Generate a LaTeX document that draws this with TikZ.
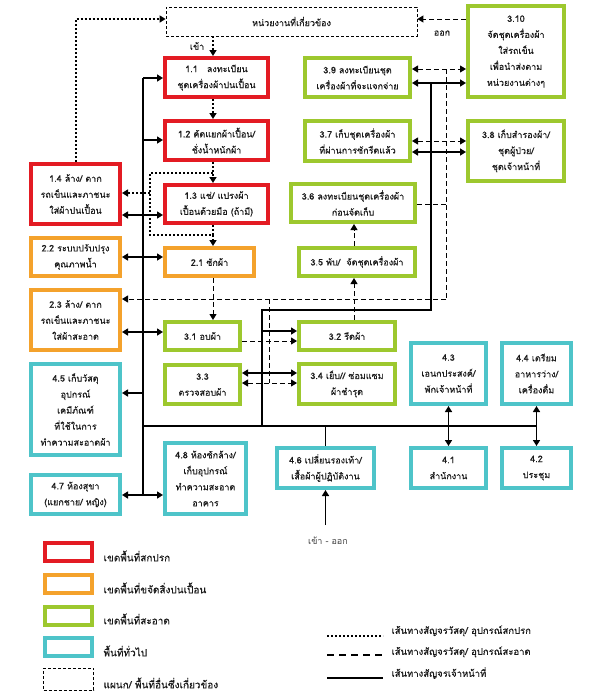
\documentclass[tikz,border=0pt]{standalone}
\usepackage{fontspec}
\newfontfamily\thaifont[Script=Thai,FakeBold=0.35]{Loma}
\newfontfamily\thailight[Script=Thai]{Loma}
\usetikzlibrary{arrows.meta}
\definecolor{cred}{HTML}{E31B23}
\definecolor{corange}{HTML}{F4A22C}
\definecolor{cgreen}{HTML}{9DC82E}
\definecolor{ccyan}{HTML}{4EC4C9}
\definecolor{ctext}{HTML}{1A1A1A}
\newcommand\mybox[7]{%
 \pgfmathsetmacro\bcx{(#3+#5)/2}\pgfmathsetmacro\bcy{(#4+#6)/2}%
 \pgfmathsetmacro\bww{#5-#3-4}\pgfmathsetmacro\bhh{#6-#4-4}%
 \node[#2, minimum width=\bww pt, minimum height=\bhh pt] (#1) at (\bcx,\bcy) {#7};}
\tikzset{
 zone/.style={draw, line width=4pt, fill=white, align=center, inner sep=1pt,
   font=\thaifont\fontsize{9}{16}\selectfont, text=ctext},
 redz/.style={zone, draw=cred},
 orz/.style={zone, draw=corange},
 grz/.style={zone, draw=cgreen},
 cyz/.style={zone, draw=ccyan},
 deptz/.style={draw, dash pattern=on 3pt off 2pt, line width=0.8pt, align=center,
   font=\thaifont\fontsize{9}{16}\selectfont, text=ctext},
 sol/.style={line width=1.6pt},
 dsh/.style={line width=1pt, dash pattern=on 5pt off 3pt},
 dot/.style={line width=2pt, dash pattern=on 2pt off 2pt},
 lbl/.style={font=\thaifont\fontsize{9}{12}\selectfont, text=ctext},
 >={Triangle[length=6pt,width=7pt]}
}
\begin{document}
\begin{tikzpicture}[x=1pt,y=-1pt]
\useasboundingbox (0,0) rectangle (596,697);
% ---- boxes
\mybox{top}{deptz}{164}{5}{419}{38}{หน่วยงานที่เกี่ยวข้อง}
\mybox{n11}{redz}{163}{56}{270}{99}{1.1\ \ \ ลงทะเบียน\\ชุดเครื่องผ้าปนเปื้อน}
\mybox{n12}{redz}{163}{119}{270}{162}{1.2 คัดแยกผ้าเปื้อน/\\ชั่งน้ำหนักผ้า}
\mybox{n13}{redz}{163}{183}{270}{225}{1.3 แช่/ แปรงผ้า\\เปื้อนด้วยมือ (ถ้ามี)}
\mybox{n14}{redz}{29}{162}{122}{226}{1.4 ล้าง/ ตาก\\รถเข็นและภาชนะ\\ใส่ผ้าปนเปื้อน}
\mybox{n21}{orz}{163}{246}{256}{278}{2.1 ซักผ้า}
\mybox{n22}{orz}{29}{236}{122}{278}{2.2 ระบบปรับปรุง\\คุณภาพน้ำ}
\mybox{n23}{orz}{29}{288}{122}{352}{2.3 ล้าง/ ตาก\\รถเข็นและภาชนะ\\ใส่ผ้าสะอาด}
\mybox{n31}{grz}{163}{320}{242}{352}{3.1 อบผ้า}
\mybox{n32}{grz}{297}{320}{397}{352}{3.2 รีดผ้า}
\mybox{n33}{grz}{163}{363}{242}{406}{3.3\\ตรวจสอบผ้า}
\mybox{n34}{grz}{297}{362}{397}{406}{3.4 เย็บ// ซ่อมแซม\\ผ้าชำรุด}
\mybox{n35}{grz}{297}{246}{417}{278}{3.5 พับ/\ \ จัดชุดเครื่องผ้า}
\mybox{n36}{grz}{289}{182}{417}{224}{3.6 ลงทะเบียนชุดเครื่องผ้า\\ก่อนจัดเก็บ}
\mybox{n37}{grz}{303}{119}{412}{163}{3.7 เก็บชุดเครื่องผ้า\\ที่ผ่านการซักรีดแล้ว}
\mybox{n38}{grz}{466}{119}{566}{183}{3.8 เก็บสำรองผ้า/\\ชุดผู้ป่วย/\\ชุดเจ้าหน้าที่}
\mybox{n39}{grz}{303}{56}{412}{99}{3.9 ลงทะเบียนชุด\\เครื่องผ้าที่จะแจกจ่าย}
\mybox{n310}{grz}{466}{4}{566}{99}{3.10\\จัดชุดเครื่องผ้า\\ใส่รถเข็น\\เพื่อนำส่งตาม\\หน่วยงานต่างๆ}
\mybox{n41}{cyz}{409}{446}{488}{490}{4.1\\สำนักงาน}
\mybox{n42}{cyz}{500}{446}{573}{490}{4.2\\ประชุม}
\mybox{n43}{cyz}{409}{341}{488}{406}{4.3\\เอนกประสงค์/\\พักเจ้าหน้าที่}
\mybox{n44}{cyz}{500}{341}{573}{406}{4.4 เตรียม\\อาหารว่าง/\\เครื่องดื่ม}
\mybox{n45}{cyz}{29}{362}{122}{457}{4.5 เก็บวัสดุ\\อุปกรณ์\\เคมีภัณฑ์\\ที่ใช้ในการ\\ทำความสะอาดผ้า}
\mybox{n46}{cyz}{275}{446}{376}{490}{4.6 เปลี่ยนรองเท้า/\\เสื้อผ้าผู้ปฏิบัติงาน}
\mybox{n47}{cyz}{29}{473}{122}{516}{4.7 ห้องสุขา\\(แยกชาย/ หญิง)}
\mybox{n48}{cyz}{163}{441}{248}{516}{4.8 ห้องซักล้าง/\\เก็บอุปกรณ์\\ทำความสะอาด\\อาคาร}
% ---- labels
\node[lbl] (lin) at (197,46) {เข้า};
\node[lbl] (lout) at (442,33) {ออก};
\node[lbl, font=\thailight\fontsize{9}{12}\selectfont, text=black!75] (linout) at (328,541) {เข้า - ออก};
% ---- dotted (dirty)
\draw[dot,->] (213,0 |- top.south) -- (213,0 |- n11.north);
\draw[dot,->] (213,0 |- n11.south) -- (213,0 |- n12.north);
\draw[dot,->] (213,0 |- n12.south) -- (213,0 |- n13.north);
\draw[dot] (213,173) -- (150,173) -- (150,235) -- (213,235);
\draw[dot] (213,0 |- n13.south) -- (213,235);
\draw[dot,->] (213,235) -- (213,0 |- n21.north);
\draw[dot,->] (150,193) -- (n14.east |- 0,193);
\draw[dot,->] (n14.north) -- (n14.north |- 0,19) -- (top.west |- 0,19);
% ---- dashed (clean)
\draw[dsh,->] (n310.west |- 0,19) -- (top.east |- 0,19);
\draw[dsh,<->] (n39.east |- 0,69) -- (n310.west |- 0,69);
\draw[dsh,<->] (n37.east |- 0,141) -- (n38.west |- 0,141);
\draw[dsh] (446,69) -- (446,299);
\draw[dsh] (n36.east |- 0,204) -- (446,204);
\draw[dsh,->] (446,299) -- (n23.east |- 0,299);
\draw[dsh] (269,299) -- (269,383);
\draw[dsh,<->] (n33.east |- 0,383) -- (n34.west |- 0,383);
\draw[dsh,->] (n31.east |- 0,341) -- (n32.west |- 0,341);
\draw[dsh,->] (213,0 |- n21.south) -- (213,0 |- n31.north);
\draw[dsh,->] (354,0 |- n32.north) -- (354,0 |- n35.south);
\draw[dsh,->] (354,0 |- n35.north) -- (354,0 |- n36.south);
% ---- solid (staff)
\coordinate (tT) at (143,78);
\coordinate (tB) at (143,495);
\draw[sol] (tT) -- (tB);
\draw[sol,->] (tT) -- (n11.west |- tT);
\draw[sol,->] (143,140) -- (n12.west |- 0,140);
\draw[sol,<->] (n14.east |- 0,215) -- (n13.west |- 0,215);
\draw[sol,<->] (n22.east |- 0,257) -- (n21.west |- 0,257);
\draw[sol,<->] (n23.east |- 0,332) -- (n31.west |- 0,332);
\draw[sol,->] (143,393) -- (n45.east |- 0,393);
\draw[sol,<->] (n47.east |- 0,495) -- (n48.west |- 0,495);
\draw[sol] (143,426) -- (n44.south |- 0,426);
\draw[sol,<->] (n43.south) -- (n41.north);
\draw[sol,<->] (n44.south) -- (n42.north);
\draw[sol] (n46.north) -- (n46.north |- 0,426);
\coordinate (ent) at (n46.south |- 0,525);
\draw[sol,->] (ent) -- (n46.south);
\draw[sol] (262,426) -- (262,310) -- (431,310) -- (431,83);
\draw[sol,<->] (n39.east |- 0,83) -- (n310.west |- 0,83);
\draw[sol,<->] (n37.east |- 0,152) -- (n38.west |- 0,152);
\draw[sol,->] (262,331) -- (n32.west |- 0,331);
\draw[sol,<->] (n33.east |- 0,373) -- (n34.west |- 0,373);
% ---- legend
\tikzset{lg/.style={line width=4pt, minimum width=47pt, minimum height=18pt}}
\tikzset{lgt/.style={lbl, anchor=west, font=\thaifont\fontsize{10}{12}\selectfont}}
\node[lg, draw=cred] (L1) at (68.5,552) {};
\node[lg, draw=corange] (L2) at (68.5,584) {};
\node[lg, draw=cgreen] (L3) at (68.5,615.5) {};
\node[lg, draw=ccyan] (L4) at (68.5,647) {};
\node[draw, dash pattern=on 3pt off 2pt, line width=0.8pt, minimum width=50pt, minimum height=22pt] (L5) at (68.5,679) {};
\node[lgt] (T1) at (100,556) {เขตพื้นที่สกปรก};
\node[lgt] (T2) at (100,588) {เขตพื้นที่ขจัดสิ่งปนเปื้อน};
\node[lgt] (T3) at (100,619) {เขตพื้นที่สะอาด};
\node[lgt] (T4) at (100,651) {พื้นที่ทั่วไป};
\node[lgt] (T5) at (100,683) {แผนก/ พื้นที่อื่นซึ่งเกี่ยวข้อง};
\coordinate (D1a) at (327,636); \coordinate (D1b) at (383,636);
\coordinate (D2a) at (327,655); \coordinate (D2b) at (383,655);
\coordinate (D3a) at (327,678); \coordinate (D3b) at (383,678);
\draw[dot] (D1a) -- (D1b);
\draw[line width=1.3pt, dash pattern=on 7pt off 5pt] (D2a) -- (D2b);
\draw[sol] (D3a) -- (D3b);
\node[lgt, font=\thaifont\fontsize{9.5}{12}\selectfont] (T6) at (388,631) {เส้นทางสัญจรวัสดุ/ อุปกรณ์สกปรก};
\node[lgt, font=\thaifont\fontsize{9.5}{12}\selectfont] (T7) at (388,652) {เส้นทางสัญจรวัสดุ/ อุปกรณ์สะอาด};
\node[lgt, font=\thaifont\fontsize{9.5}{12}\selectfont] (T8) at (388,673) {เส้นทางสัญจรเจ้าหน้าที่};
\end{tikzpicture}
\end{document}
